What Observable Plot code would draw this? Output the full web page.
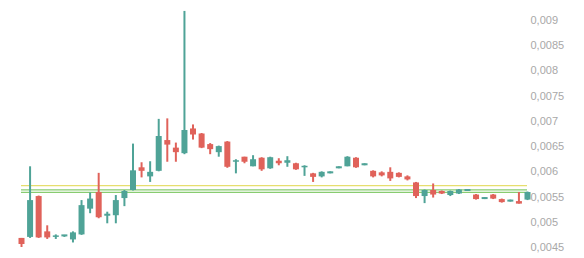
<!DOCTYPE html>
<html>
<head>
<meta charset="utf-8">
<script src="https://cdn.jsdelivr.net/npm/d3@7"></script>
<script src="https://cdn.jsdelivr.net/npm/@observablehq/plot@0.6"></script>
<style>
  html, body { margin: 0; padding: 0; background: #fff; }
</style>
</head>
<body>
<div id="chart"></div>
<script>
const open  = [0.00468,0.00470,0.00551,0.00481,0.00470,0.00471,0.00465,0.00475,0.00526,0.00559,
               0.00512,0.00513,0.00547,0.00563,0.00608,0.00590,0.00601,0.00662,0.00647,0.00636,
               0.00685,0.00675,0.00654,0.00638,0.00659,0.00619,0.00629,0.00610,0.00627,0.00606,
               0.00621,0.00617,0.00616,0.00608,0.00596,0.00590,0.00596,0.00606,0.00610,0.00627,
               0.00612,0.00601,0.00598,0.00599,0.00597,0.00590,0.00578,0.00551,0.00563,0.00561,
               0.00553,0.00556,0.00561,0.00554,0.00545,0.00554,0.00545,0.00540,0.00541,0.00544];
const high  = [0.00468,0.00610,0.00552,0.00493,0.00475,0.00474,0.00481,0.00543,0.00558,0.00597,
               0.00520,0.00553,0.00563,0.00655,0.00618,0.00620,0.00704,0.00705,0.00657,0.00918,
               0.00693,0.00676,0.00656,0.00651,0.00660,0.00624,0.00629,0.00632,0.00628,0.00629,
               0.00626,0.00630,0.00617,0.00612,0.00597,0.00600,0.00600,0.00610,0.00630,0.00628,
               0.00616,0.00602,0.00600,0.00608,0.00598,0.00592,0.00579,0.00564,0.00576,0.00562,
               0.00562,0.00565,0.00565,0.00555,0.00549,0.00555,0.00546,0.00544,0.00559,0.00560];
const low   = [0.00450,0.00468,0.00468,0.00466,0.00466,0.00470,0.00459,0.00474,0.00517,0.00507,
               0.00497,0.00497,0.00531,0.00562,0.00588,0.00579,0.00600,0.00619,0.00619,0.00634,
               0.00663,0.00646,0.00634,0.00629,0.00607,0.00596,0.00616,0.00610,0.00601,0.00605,
               0.00612,0.00609,0.00603,0.00591,0.00579,0.00588,0.00596,0.00606,0.00610,0.00607,
               0.00612,0.00588,0.00590,0.00581,0.00588,0.00582,0.00547,0.00537,0.00548,0.00555,
               0.00551,0.00555,0.00561,0.00544,0.00545,0.00545,0.00538,0.00540,0.00536,0.00543];
const close = [0.00456,0.00543,0.00469,0.00469,0.00473,0.00475,0.00479,0.00533,0.00546,0.00509,
               0.00516,0.00543,0.00561,0.00602,0.00601,0.00599,0.00670,0.00653,0.00638,0.00682,
               0.00673,0.00647,0.00644,0.00650,0.00609,0.00622,0.00619,0.00624,0.00604,0.00628,
               0.00616,0.00622,0.00604,0.00611,0.00589,0.00599,0.00600,0.00610,0.00629,0.00608,
               0.00616,0.00590,0.00592,0.00586,0.00589,0.00584,0.00551,0.00563,0.00554,0.00556,
               0.00561,0.00564,0.00565,0.00545,0.00549,0.00546,0.00539,0.00544,0.00536,0.00559];

const levelValues = [0.005726, 0.005641, 0.005593];
const levelColors = ["#e6de6e", "#88cc70", "#88cc70"];
const yTicks = [0.0045, 0.005, 0.0055, 0.006, 0.0065, 0.007, 0.0075, 0.008, 0.0085, 0.009];

const candles = open.map((o, i) => ({i, open: o, high: high[i], low: low[i], close: close[i], up: close[i] >= o}));
const levels = levelValues.map((v, i) => ({v, c: levelColors[i]}));

const UP = "#4fa397", DOWN = "#e0625a";

const chart = Plot.plot({
  width: 584,
  height: 258,
  marginLeft: 21,
  marginRight: 57,
  marginTop: 20,
  marginBottom: 11,
  style: {fontFamily: "Liberation Sans, Arial, sans-serif", fontSize: "11px", background: "#fff"},
  x: {domain: [0, 59], axis: null},
  y: {domain: [0.0045, 0.009], axis: null},
  marks: [
    Plot.ruleY(levels, {y: "v", stroke: "c", strokeWidth: 1.2}),
    Plot.ruleX(candles, {x: "i", y1: "low", y2: "high", stroke: d => d.up ? UP : DOWN, strokeWidth: 2}),
    Plot.ruleX(candles, {x: "i", y1: "open", y2: "close", stroke: d => d.up ? UP : DOWN, strokeWidth: 6, strokeLinecap: "butt"}),
    Plot.axisY(yTicks, {anchor: "right", tickSize: 0, tickPadding: 3, fill: "#a8a8a8", tickFormat: d => String(d).replace(".", ","), label: null})
  ]
});
document.getElementById("chart").appendChild(chart);
</script>
</body>
</html>
